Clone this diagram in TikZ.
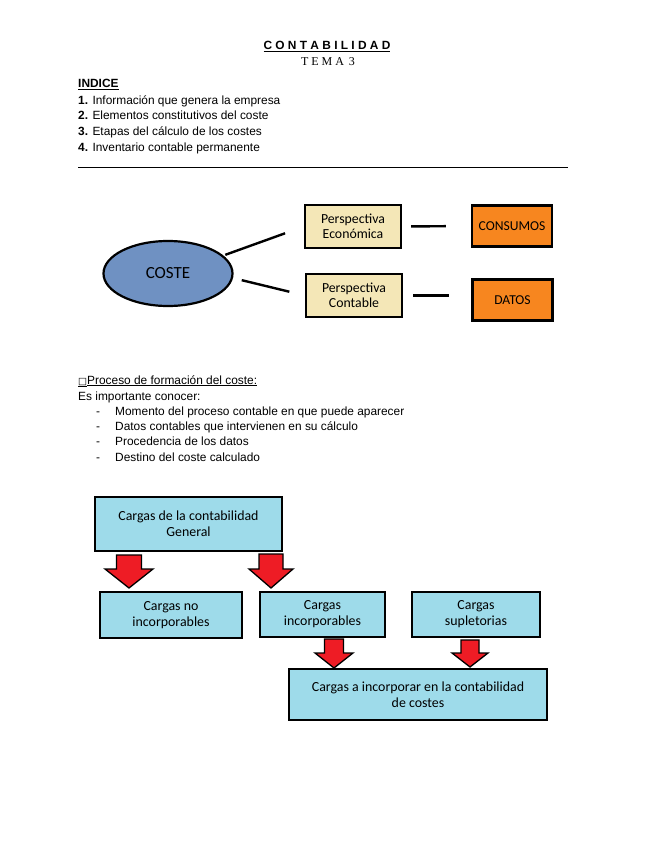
\documentclass[tikz,border=0pt]{standalone}
\usepackage{fontspec}
\setmainfont{Liberation Sans}
\newfontfamily\kastenfont{Carlito}
\newfontfamily\serifschrift{Liberation Serif}
\usetikzlibrary{positioning,calc,shapes.geometric}

\definecolor{kreisblau}{HTML}{6F91C2}
\definecolor{sandgelb}{HTML}{F4E7B7}
\definecolor{orangebox}{HTML}{F7861F}
\definecolor{hellblau}{HTML}{9EDBEA}
\definecolor{pfeilrot}{HTML}{EE1C25}

\tikzset{
  txt/.style={anchor=base west, inner sep=0pt, font=\fontsize{11.9}{14}\selectfont},
  linie/.style={line width=2.4pt},
  perspektive/.style={draw, line width=2.2pt, fill=sandgelb, minimum width=96pt, minimum height=43pt,
    align=center, font=\kastenfont\fontsize{13.8}{15.5}\selectfont},
  ergebnis/.style={draw, line width=2.2pt, fill=orangebox, minimum width=80pt, minimum height=41pt,
    font=\kastenfont\fontsize{13.6}{15}\selectfont},
  ladung/.style={draw, line width=2.4pt, fill=hellblau, align=center,
    font=\kastenfont\fontsize{13.9}{15.8}\selectfont},
  pfeil/.style={draw=black, line width=1.3pt, fill=pfeilrot, line join=miter}
}

% Blockpfeil: x-Mitte, oben, Kopfansatz, Spitze, halbe Schaftbreite, halbe Kopfbreite
\newcommand{\flecha}[6]{%
  \draw[pfeil] (#1-#5,#2) -- (#1+#5,#2) -- (#1+#5,#3) -- (#1+#6,#3) -- (#1,#4)
    -- (#1-#6,#3) -- (#1-#5,#3) -- cycle;}

\begin{document}
\begin{tikzpicture}[x=1pt,y=-1pt]
  \useasboundingbox (0,0) rectangle (655,848);

  % Kopf
  \node[inner sep=0pt, anchor=base, font=\bfseries\fontsize{11.9}{13}\selectfont] (titel) at (327,50)
    {\underline{C O N T A B I L I D A D}};
  \node[inner sep=0pt, anchor=base, font=\serifschrift\fontsize{12}{14}\selectfont] (tema) at (328,66)
    {T E M A \,3};

  % Inhaltsverzeichnis
  \node[txt, font=\bfseries\fontsize{11.9}{14}\selectfont] (indice) at (78,88) {\underline{INDICE}};
  \node[txt] (punkt1) at (78,104.5) {\textbf{1.} Información que genera la empresa};
  \node[txt] (punkt2) at (78,120) {\textbf{2.} Elementos constitutivos del coste};
  \node[txt] (punkt3) at (78,135.5) {\textbf{3.} Etapas del cálculo de los costes};
  \node[txt] (punkt4) at (78,151) {\textbf{4.} Inventario contable permanente};
  \draw[line width=0.9pt] (78,167) -- (568,167);

  % Erstes Schema
  \node[draw, ellipse, line width=2.2pt, fill=kreisblau, minimum width=129pt, minimum height=65pt,
    font=\kastenfont\fontsize{17}{19}\selectfont] (coste) at (168,273.5) {COSTE};
  \node[perspektive] (econ) at (353,226.5) {Perspectiva\\Económica};
  \node[perspektive] (contable) at (354,295.5) {Perspectiva\\Contable};
  \node[ergebnis] (consumos) at (512,226) {CONSUMOS};
  \node[ergebnis] (datos) at (512.5,300) {DATOS};

  \draw[linie, shorten <=2pt, shorten >=20pt] (coste.18) -- (econ.west);
  \draw[linie, shorten <=9pt, shorten >=16pt] (coste.-4) -- (contable.west);
  \draw[linie, shorten <=9pt, shorten >=25pt] (econ.east) -- (consumos.west);
  \draw[linie, shorten <=10pt, shorten >=22pt] (contable.east) -- (datos.west |- contable.east);

  % Proceso
  \node[txt] (proceso) at (78,384) {\underline{\fontspec{DejaVu Sans}\fontsize{9.5}{11}\selectfont □}\underline{Proceso de formación del coste:}};
  \node[txt] (conocer) at (78,400) {Es importante conocer:};
  \foreach \y/\name/\texto in {415/momento/Momento del proceso contable en que puede aparecer,
      430/datoscont/Datos contables que intervienen en su cálculo,
      445/procedencia/Procedencia de los datos,
      461/destino/Destino del coste calculado}{
    \node[txt] (guion-\name) at (96,\y) {-};
    \node[txt] (\name) at (115,\y) {\texto};
  }

  % Zweites Schema
  \node[ladung, minimum width=187pt, minimum height=54pt] (general) at (188.5,524)
    {Cargas de la contabilidad\\General};
  \node[ladung, minimum width=142pt, minimum height=46pt] (noinc) at (171,615)
    {Cargas no\\incorporables};
  \node[ladung, minimum width=125pt, minimum height=45pt] (incorp) at (322.5,614.5)
    {Cargas\\incorporables};
  \node[ladung, minimum width=128pt, minimum height=45pt] (supl) at (476,614.5)
    {Cargas\\supletorias};
  \node[ladung, minimum width=258pt, minimum height=51pt] (final) at (418,694.5)
    {Cargas a incorporar en la contabilidad\\de costes};

  % Pfeile
  \flecha{129}{555}{569}{588}{12.5}{24}
  \flecha{271}{554}{569}{588}{12}{22}
  \flecha{334}{639}{653}{668}{9.5}{19}
  \flecha{470}{640}{653}{667}{9}{18}
\end{tikzpicture}
\end{document}
